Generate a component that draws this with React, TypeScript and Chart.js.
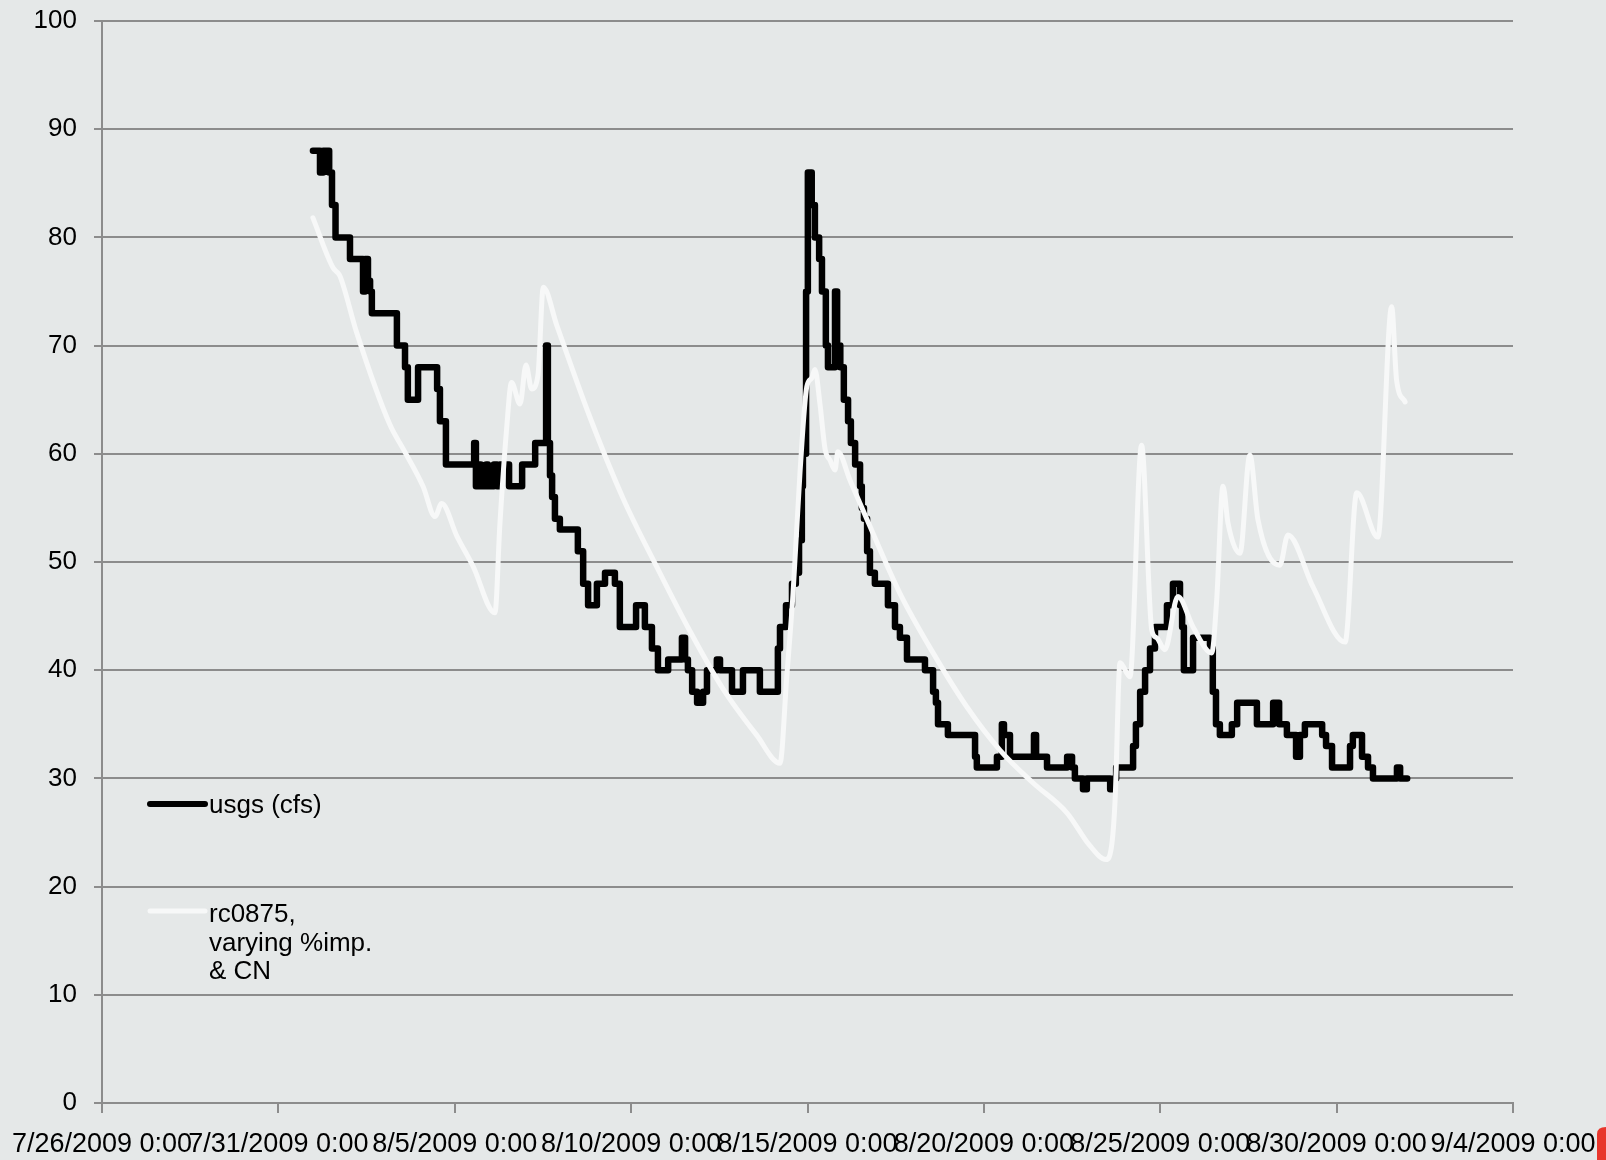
import React, { useEffect, useRef } from 'react';
import { Chart, registerables } from 'chart.js';

Chart.register(...registerables);

// x axis: days since 7/26/2009 0:00
const xTickLabels = [
  '7/26/2009 0:00',
  '7/31/2009 0:00',
  '8/5/2009 0:00',
  '8/10/2009 0:00',
  '8/15/2009 0:00',
  '8/20/2009 0:00',
  '8/25/2009 0:00',
  '8/30/2009 0:00',
  '9/4/2009 0:00',
];

const usgsLabel = ['usgs (cfs)'];
const rcLabel = ['rc0875,', 'varying %imp.', '& CN'];

// usgs (cfs): change points (value holds until next point)
const usgsDays = [
  5.98, 6.18, 6.27, 6.44, 6.52, 6.62, 7.03, 7.4, 7.46, 7.54, 7.6, 7.65, 8.36, 8.59, 8.67, 8.96,
  9.5, 9.58, 9.75, 10.55, 10.6, 10.66, 10.74, 10.89, 10.94, 11.11, 11.2, 11.28, 11.54, 11.91,
  12.28, 12.59, 12.64, 12.7, 12.76, 12.84, 12.98, 13.49, 13.64, 13.78, 14.03, 14.26, 14.54,
  14.68, 15.14, 15.39, 15.59, 15.76, 16.05, 16.44, 16.53, 16.61, 16.73, 16.87, 17.04, 17.15,
  17.43, 17.52, 17.86, 18.17, 18.65, 19.16, 19.22, 19.39, 19.56, 19.67, 19.76, 19.84, 19.87,
  19.96, 20.01, 20.12, 20.21, 20.33, 20.41, 20.52, 20.58, 20.78, 20.84, 20.93, 21.03, 21.15,
  21.23, 21.35, 21.49, 21.54, 21.6, 21.69, 21.77, 21.91, 22.28, 22.48, 22.62, 22.82, 23.33,
  23.56, 23.64, 23.7, 23.98, 24.75, 24.8, 25.37, 25.51, 25.57, 25.74, 26.42, 26.48, 26.79,
  27.36, 27.5, 27.58, 27.81, 27.92, 28.58, 28.66, 28.75, 29.23, 29.31, 29.43, 29.57, 29.71,
  29.85, 30.19, 30.36, 30.56, 30.62, 30.67, 30.93, 31.41, 31.49, 31.58, 31.69, 32.03, 32.18,
  32.74, 33.2, 33.37, 33.59, 33.85, 33.96, 34.1, 34.59, 34.7, 34.87, 35.38, 35.46, 35.72,
  35.89, 36.03, 36.71, 36.8, 37.0,
];
const usgsFlow = [
  88, 86, 88, 86, 83, 80, 78, 75, 78, 76, 75, 73, 70, 68, 65, 68,
  66, 63, 59, 61, 57, 59, 57, 59, 57, 59, 57, 59, 57, 59,
  61, 70, 61, 58, 56, 54, 53, 51, 48, 46, 48, 49, 48,
  44, 46, 44, 42, 40, 41, 43, 41, 40, 38, 37, 38, 40,
  41, 40, 38, 40, 38, 42, 44, 46, 48, 49, 52, 57, 60,
  75, 86, 83, 80, 78, 75, 70, 68, 75, 70, 68, 65, 63,
  61, 59, 57, 55, 54, 51, 49, 48, 46, 44, 43, 41, 40,
  38, 37, 35, 34, 32, 31, 32, 35, 34, 32, 34, 32, 31,
  32, 31, 30, 29, 30, 29, 30, 31, 33, 35, 38, 40, 42,
  44, 46, 48, 46, 44, 40, 43, 42, 38, 35, 34, 35, 37,
  35, 37, 35, 34, 32, 34, 35, 34, 33, 31, 33, 34, 32,
  31, 30, 31, 30, 30,
];

// rc0875, varying %imp. & CN
const rcDays = [
  5.98, 6.55, 6.69, 6.75, 7.22, 8.16, 8.53, 9.1, 9.44, 9.63, 10.06, 10.52, 11.14, 11.28, 11.47,
  11.61, 11.85, 12.02, 12.18, 12.36, 12.51, 12.89, 13.83, 14.77, 15.72, 16.67, 17.6, 18.56,
  19.22, 19.41, 19.59, 19.79, 19.98, 20.12, 20.21, 20.35, 20.5, 20.64, 20.78, 20.86, 21.2,
  21.69, 22.62, 23.56, 24.52, 25.46, 26.39, 27.36, 28.0, 28.46, 28.63, 28.72, 28.86, 29.14,
  29.47, 29.76, 29.9, 30.13, 30.5, 30.93, 31.46, 31.6, 31.78, 31.92, 32.26, 32.54, 32.77,
  33.39, 33.62, 34.33, 35.24, 35.57, 36.17, 36.56, 36.7, 36.94,
];
const rcFlow = [
  81.8, 77.2, 76.7, 76.4, 71.2, 62.7, 60.5, 57.0, 54.2, 55.4, 52.4, 49.6, 45.3, 53.5, 62.3,
  66.6, 64.6, 68.2, 66.0, 67.3, 75.4, 71.9, 63.4, 55.9, 49.6, 43.6, 38.3, 34.0,
  31.4, 39.3, 47.1, 58.4, 66.2, 67.0, 67.8, 64.7, 60.4, 59.4, 58.5, 60.2, 57.6,
  53.9, 47.1, 41.6, 36.6, 32.6, 29.6, 26.8, 23.8, 22.5, 24.0, 28.0, 40.7, 39.4,
  60.8, 43.7, 43.0, 41.9, 46.8, 44.0, 41.6, 46.5, 57.0, 53.6, 50.8, 59.9, 53.9,
  49.7, 52.5, 47.7, 42.6, 56.4, 52.3, 73.6, 66.8, 64.8,
];

const GRID = '#8c8c8c';
const FONT = "'Liberation Sans', Arial, sans-serif";

export default function App() {
  const ref = useRef<HTMLCanvasElement>(null);

  useEffect(() => {
    if (!ref.current) return;

    const bgPlugin = {
      id: 'bgPlugin',
      beforeDraw(chart: any) {
        const { ctx, width, height } = chart;
        ctx.save();
        ctx.fillStyle = '#e5e8e8';
        ctx.fillRect(0, 0, width, height);
        ctx.restore();
      },
      afterDraw(chart: any) {
        const { ctx, width, height } = chart;
        ctx.save();
        ctx.fillStyle = '#e8362c';
        ctx.beginPath();
        ctx.moveTo(width - 9, height);
        ctx.lineTo(width - 9, height - 26);
        ctx.quadraticCurveTo(width - 9, height - 33, width, height - 33);
        ctx.lineTo(width, height);
        ctx.closePath();
        ctx.fill();
        ctx.restore();
      },
    };

    const legendPlugin = {
      id: 'sideLegend',
      afterDatasetsDraw(chart: any) {
        const { ctx, chartArea } = chart;
        const x0 = chartArea.left + 48;
        const x1 = chartArea.left + 103;
        const tx = chartArea.left + 107;
        const entries = chart.data.datasets.map((ds: any, i: number) => ({
          lines: ds.legendLines as string[],
          color: ds.borderColor as string,
          width: i === 0 ? 6 : 5,
          lineY: chartArea.top + (i === 0 ? 783 : 890),
          textY: chartArea.top + (i === 0 ? 792 : 901),
        }));
        ctx.save();
        ctx.font = `26px ${FONT}`;
        ctx.textAlign = 'left';
        ctx.textBaseline = 'alphabetic';
        entries.forEach((e: any) => {
          ctx.strokeStyle = e.color;
          ctx.lineWidth = e.width;
          ctx.lineCap = 'round';
          ctx.beginPath();
          ctx.moveTo(x0, e.lineY);
          ctx.lineTo(x1, e.lineY);
          ctx.stroke();
          ctx.fillStyle = '#000';
          e.lines.forEach((ln: string, k: number) => {
            ctx.fillText(ln, tx, e.textY + k * 28.6);
          });
        });
        ctx.restore();
      },
    };

    const chart = new Chart(ref.current, {
      type: 'line',
      data: {
        datasets: [
          {
            label: usgsLabel.join(' '),
            legendLines: usgsLabel,
            data: usgsDays.map((d, i) => ({ x: d, y: usgsFlow[i] })),
            borderColor: '#000000',
            backgroundColor: '#000000',
            borderWidth: 6.5,
            pointRadius: 0,
            stepped: true,
            borderCapStyle: 'round',
            borderJoinStyle: 'round',
            fill: false,
            order: 1,
          } as any,
          {
            label: rcLabel.join(' '),
            legendLines: rcLabel,
            data: rcDays.map((d, i) => ({ x: d, y: rcFlow[i] })),
            borderColor: '#f7f8f8',
            backgroundColor: '#f7f8f8',
            borderWidth: 5,
            pointRadius: 0,
            cubicInterpolationMode: 'monotone',
            borderCapStyle: 'round',
            borderJoinStyle: 'round',
            fill: false,
            order: 0,
          } as any,
        ],
      },
      options: {
        responsive: false,
        animation: false,
        events: [],
        layout: { padding: { left: 0, right: 93, top: 21, bottom: 0 } },
        plugins: {
          legend: { display: false },
          tooltip: { enabled: false },
          title: { display: false },
        },
        scales: {
          x: {
            type: 'linear',
            min: 0,
            max: 40,
            afterFit(scale: any) {
              scale.height = 57;
              scale.paddingLeft = 0;
              scale.paddingRight = 0;
            },
            ticks: {
              stepSize: 5,
              autoSkip: false,
              maxRotation: 0,
              minRotation: 0,
              padding: 15,
              color: '#000',
              font: { family: FONT, size: 27 },
              callback: (v: any) => {
                const idx = Math.round(Number(v) / 5);
                return xTickLabels[idx] ?? '';
              },
            },
            grid: {
              display: true,
              drawOnChartArea: false,
              drawTicks: true,
              tickLength: 10,
              color: GRID,
              lineWidth: 2,
            },
            border: { display: true, color: GRID, width: 2 },
          },
          y: {
            type: 'linear',
            min: 0,
            max: 100,
            afterFit(scale: any) {
              scale.width = 102;
              scale.paddingTop = 0;
              scale.paddingBottom = 0;
            },
            ticks: {
              stepSize: 10,
              padding: 17,
              color: '#000',
              font: { family: FONT, size: 26 },
            },
            grid: {
              display: true,
              drawOnChartArea: true,
              drawTicks: true,
              tickLength: 8,
              color: GRID,
              lineWidth: 2,
            },
            border: { display: true, color: GRID, width: 2 },
          },
        },
      } as any,
      plugins: [bgPlugin, legendPlugin],
    });

    return () => chart.destroy();
  }, []);

  return (
    <div style={{ position: 'fixed', left: 0, top: 0, width: 1606, height: 1160 }}>
      <canvas ref={ref} width={1606} height={1160} style={{ display: 'block' }} />
    </div>
  );
}
